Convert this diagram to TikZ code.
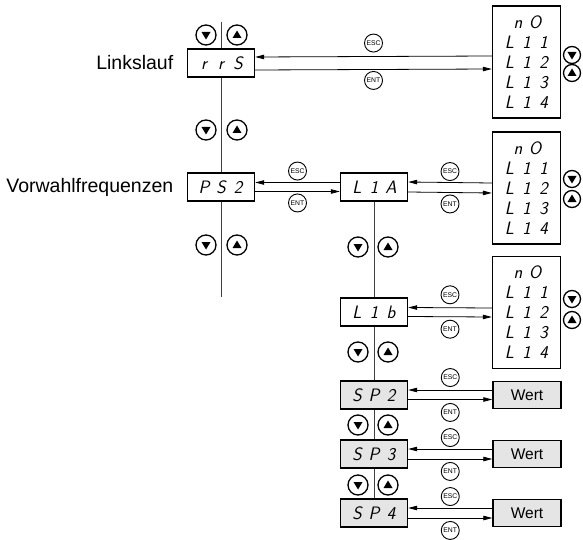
\documentclass[tikz,border=0pt]{standalone}
\usepackage{fontspec}
\setmainfont{Liberation Sans}
\setsansfont{Latin Modern Sans}
\usetikzlibrary{arrows.meta, positioning}
\newcommand{\seg}[1]{\makebox[17pt]{#1}}

\begin{document}
\begin{tikzpicture}[x=1pt, y=-1pt, >={Triangle[length=9pt,width=4.5pt]},
  font=\fontsize{19.5}{23}\selectfont,
  box/.style={draw, line width=1.4pt, minimum width=67pt, minimum height=28pt, inner sep=0pt, fill=white, font=\fontsize{18}{20}\selectfont\sffamily\slshape},
  greybox/.style={box, fill=black!10},
  listbox/.style={draw, line width=1.4pt, minimum width=68pt, minimum height=112pt, inner sep=0pt, align=center, font=\fontsize{18}{20}\selectfont\sffamily\slshape},
  wertbox/.style={draw, line width=1.4pt, minimum width=68pt, minimum height=27pt, fill=black!10, font=\fontsize{15.5}{18}\selectfont},
  btn/.style={circle, draw, line width=1.3pt, minimum size=20pt, inner sep=0pt},
  dn/.style={btn, path picture={\fill ([shift={(-4.5pt,3pt)}]path picture bounding box.center) -- ++(9pt,0pt) -- ++(-4.5pt,-7.5pt) -- cycle;}},
  up/.style={btn, path picture={\fill ([shift={(-4.5pt,-3pt)}]path picture bounding box.center) -- ++(9pt,0pt) -- ++(-4.5pt,7.5pt) -- cycle;}},
  key/.style={circle, draw, line width=0.9pt, minimum size=18pt, inner sep=0pt, font=\fontsize{6.8}{7}\selectfont},
  conn/.style={draw, line width=0.8pt},
  vline/.style={draw, line width=0.8pt, black!75}]
  \useasboundingbox (0,0) rectangle (583,540);

  % main menu column
  \coordinate (top) at (221,22);
  \node[box] (rrs) at (221,63) {\seg{r}\seg{r}\seg{S}};
  \node[box] (ps2) at (221,187) {\seg{P}\seg{S}\seg{2}};
  \coordinate (bot) at (221,297);
  \node[left=10pt of rrs] (lbllinks) {Linkslauf};
  \node[left=10pt of ps2] (lblvorw) {Vorwahlfrequenzen};
  \draw[vline] (top) -- (rrs);
  \draw[vline] (rrs) -- (ps2);
  \draw[vline] (ps2) -- (bot);
  \node[dn] (dn1) at (206,35) {};
  \node[up] (up1) at (237,35) {};
  \node[dn] (dn2) at (206,130) {};
  \node[up] (up2) at (237,130) {};
  \node[dn] (dn3) at (206,245) {};
  \node[up] (up3) at (237,245) {};

  % sub menu column
  \node[box] (l1a) at (374,187) {\seg{L}\seg{1}\seg{A}};
  \node[box] (l1b) at (374,312) {\seg{L}\seg{1}\seg{b}};
  \node[greybox] (sp2) at (374,395) {\seg{S}\seg{P}\seg{2}};
  \node[greybox] (sp3) at (374,454) {\seg{S}\seg{P}\seg{3}};
  \node[greybox] (sp4) at (374,513) {\seg{S}\seg{P}\seg{4}};
  \draw[vline] (l1a) -- (l1b);
  \draw[vline] (l1b) -- (sp2);
  \draw[vline] (sp2) -- (sp3);
  \draw[vline] (sp3) -- (sp4);
  \node[dn] (dn4) at (358,247) {};
  \node[up] (up4) at (388,247) {};
  \node[dn] (dn5) at (358,352) {};
  \node[up] (up5) at (388,352) {};
  \node[dn] (dn6) at (358,425) {};
  \node[up] (up6) at (388,425) {};
  \node[dn] (dn7) at (358,485) {};
  \node[up] (up7) at (388,485) {};

  % value lists
  \node[listbox] (list1) at (526.5,62) {\seg{n}\seg{O}\\\seg{L}\seg{1}\seg{1}\\\seg{L}\seg{1}\seg{2}\\\seg{L}\seg{1}\seg{3}\\\seg{L}\seg{1}\seg{4}};
  \node[listbox] (list2) at (526.5,188) {\seg{n}\seg{O}\\\seg{L}\seg{1}\seg{1}\\\seg{L}\seg{1}\seg{2}\\\seg{L}\seg{1}\seg{3}\\\seg{L}\seg{1}\seg{4}};
  \node[listbox] (list3) at (526.5,312.5) {\seg{n}\seg{O}\\\seg{L}\seg{1}\seg{1}\\\seg{L}\seg{1}\seg{2}\\\seg{L}\seg{1}\seg{3}\\\seg{L}\seg{1}\seg{4}};
  \node[dn, minimum size=17pt] (dnl1) at (572,55) {};
  \node[up, minimum size=17pt] (upl1) at (572,73) {};
  \node[dn, minimum size=17pt] (dnl2) at (572,179) {};
  \node[up, minimum size=17pt] (upl2) at (572,199) {};
  \node[dn, minimum size=17pt] (dnl3) at (572,299) {};
  \node[up, minimum size=17pt] (upl3) at (572,320) {};
  \node[wertbox] (wert2) at (527,395) {Wert};
  \node[wertbox] (wert3) at (527,454) {Wert};
  \node[wertbox] (wert4) at (527,513) {Wert};

  % ESC / ENT transitions
  \draw[conn, <-] ([yshift=6pt]rrs.east) -- node[key, above=4pt] (esc1) {ESC} ([yshift=6pt]list1.west);
  \draw[conn, ->] ([yshift=-7pt]rrs.east) -- node[key, below=1.5pt] (ent1) {ENT} ([yshift=-7pt]list1.west);
  \draw[conn, <-] ([yshift=4.5pt]ps2.east) -- node[key, above=2pt] (esc2) {ESC} ([yshift=4.5pt]l1a.west);
  \draw[conn, ->] ([yshift=-4.5pt]ps2.east) -- node[key, below=2pt] (ent2) {ENT} ([yshift=-4.5pt]l1a.west);
  \draw[conn, <-] ([yshift=5pt]l1a.east) -- node[key, above=1.5pt] (esc3) {ESC} ([yshift=5pt]list2.west);
  \draw[conn, ->] ([yshift=-5pt]l1a.east) -- node[key, below=2pt] (ent3) {ENT} ([yshift=-5pt]list2.west);
  \draw[conn, <-] ([yshift=4.5pt]l1b.east) -- node[key, above=3.5pt] (esc4) {ESC} ([yshift=4.5pt]list3.west);
  \draw[conn, ->] ([yshift=-4.5pt]l1b.east) -- node[key, below=3pt] (ent4) {ENT} ([yshift=-4.5pt]list3.west);
  \draw[conn, <-] ([yshift=5pt]sp2.east) -- node[key, above=3pt] (esc5) {ESC} ([yshift=5pt]wert2.west);
  \draw[conn, ->] ([yshift=-4.5pt]sp2.east) -- node[key, below=3.5pt] (ent5) {ENT} ([yshift=-4.5pt]wert2.west);
  \draw[conn, <-] ([yshift=5pt]sp3.east) -- node[key, above=2pt] (esc6) {ESC} ([yshift=5pt]wert3.west);
  \draw[conn, ->] ([yshift=-5pt]sp3.east) -- node[key, below=3pt] (ent6) {ENT} ([yshift=-5pt]wert3.west);
  \draw[conn, <-] ([yshift=5pt]sp4.east) -- node[key, above=2pt] (esc7) {ESC} ([yshift=5pt]wert4.west);
  \draw[conn, ->] ([yshift=-5pt]sp4.east) -- node[key, below=3pt] (ent7) {ENT} ([yshift=-5pt]wert4.west);
\end{tikzpicture}
\end{document}
